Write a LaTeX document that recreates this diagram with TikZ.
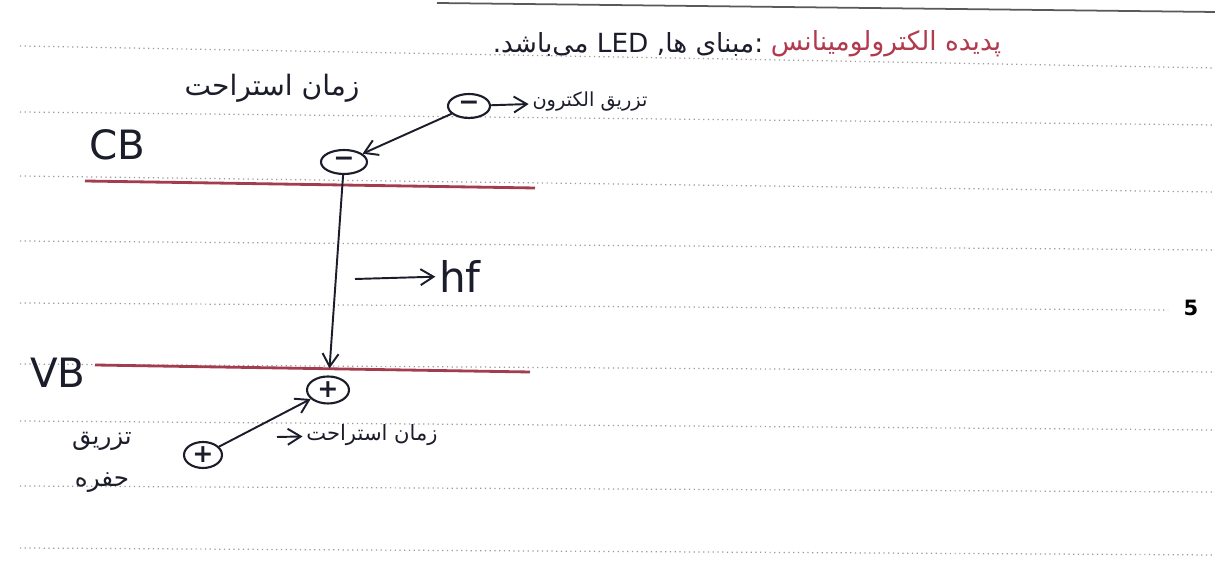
\documentclass[tikz,border=0pt]{standalone}
\usepackage{fontspec}
\setmainfont{DejaVu Sans}
\newfontfamily\farsi[Script=Arabic]{DejaVu Sans}
\TeXXeTstate=1
\usetikzlibrary{arrows.meta,positioning,shapes.geometric}
\definecolor{colink}{HTML}{1C1D2B}
\definecolor{colband}{HTML}{A23C4E}
\definecolor{colred}{HTML}{B23A4E}
\definecolor{colrule}{HTML}{9A9A9A}
\newcommand{\fa}[1]{{\farsi\beginR #1\endR}}

\begin{document}
\begin{tikzpicture}[x=0.02cm,y=-0.02cm,
  colink,
  charge/.style={draw,ellipse,line width=1.2pt,inner sep=0pt,
    minimum width=0.84cm,minimum height=0.48cm,font=\bfseries\Large},
  band/.style={colband,line width=1.6pt},
  ruled/.style={colrule,dotted,line width=0.7pt},
  arr/.style={line width=1.1pt,-{Straight Barb[length=2.6mm,width=3.2mm]}},
  lbl/.style={inner sep=2pt},
]
  \useasboundingbox (0,0) rectangle (1215,573);
  \fill[white] (0,0) rectangle (1215,573);
  % ---- notebook page ----
  \draw[gray!70!black,line width=1pt] (437,3) -- (1215,12);
  \foreach \ya/\yb/\xe in {46/68/1215,112/125/1215,176/192/1215,241/250/1215,
      303/310/1168,364/372/1215,421/430/1215,486/492/1215,548/555/1215}
    \draw[ruled] (20,\ya) -- (\xe,\yb);
  \node[lbl,font=\bfseries\large,black] (pg) at (1191,308) {5};
  % ---- title ----
  \node[lbl,anchor=east,colred,font=\fontsize{15}{18}\selectfont] (titlered) at (1005,44)
    {\fa{پدیده الکترولومینانس}};
  \node[lbl,left=0pt of titlered,font=\fontsize{15}{18}\selectfont] (titleblack)
    {\fa{:مبنای ها, \beginL LED\endL{} می‌باشد.}};
  % ---- bands ----
  \draw[band] (85,181) -- (535,188);
  \draw[band] (95,365) -- (530,372);
  \node[lbl,font=\fontsize{23}{26}\selectfont] (cb) at (117,145) {CB};
  \node[lbl,font=\fontsize{23}{26}\selectfont] (vb) at (58,373) {VB};
  % ---- electrons ----
  \node[charge] (em1) at (469,106) {−};
  \node[charge,minimum width=0.92cm] (em2) at (344,162) {−};
  \node[lbl,font=\fontsize{11}{13}\selectfont] (einj) at (590,102) {\fa{تزریق الکترون}};
  \node[lbl,font=\fontsize{16}{19}\selectfont] (rest1) at (272,88) {\fa{زمان استراحت}};
  \draw[arr] (em1) -- (einj);
  \draw[arr] (em1) -- (em2);
  % ---- holes ----
  \node[charge,minimum height=0.54cm] (hp2) at (328,390) {+};
  \node[charge,minimum width=0.76cm,minimum height=0.52cm] (hp1) at (203,455) {+};
  \node[lbl,font=\fontsize{14}{24}\selectfont,align=center] (hinj) at (102,462)
    {\fa{تزریق}\\\fa{حفره}};
  \draw[arr] (hp1) -- (hp2);
  \coordinate (rs) at (277,437);
  \node[lbl,font=\fontsize{12}{15}\selectfont] (rest2) at (372,435) {\fa{زمان استراحت}};
  \draw[arr] (rs) -- (rest2);
  % ---- recombination ----
  \draw[arr,shorten >=4pt] (em2) -- (hp2);
  \coordinate (hfs) at (355,279);
  \node[lbl,font=\fontsize{24}{28}\selectfont] (hf) at (460,276) {hf};
  \draw[arr] (hfs) -- (hf);
\end{tikzpicture}
\end{document}
